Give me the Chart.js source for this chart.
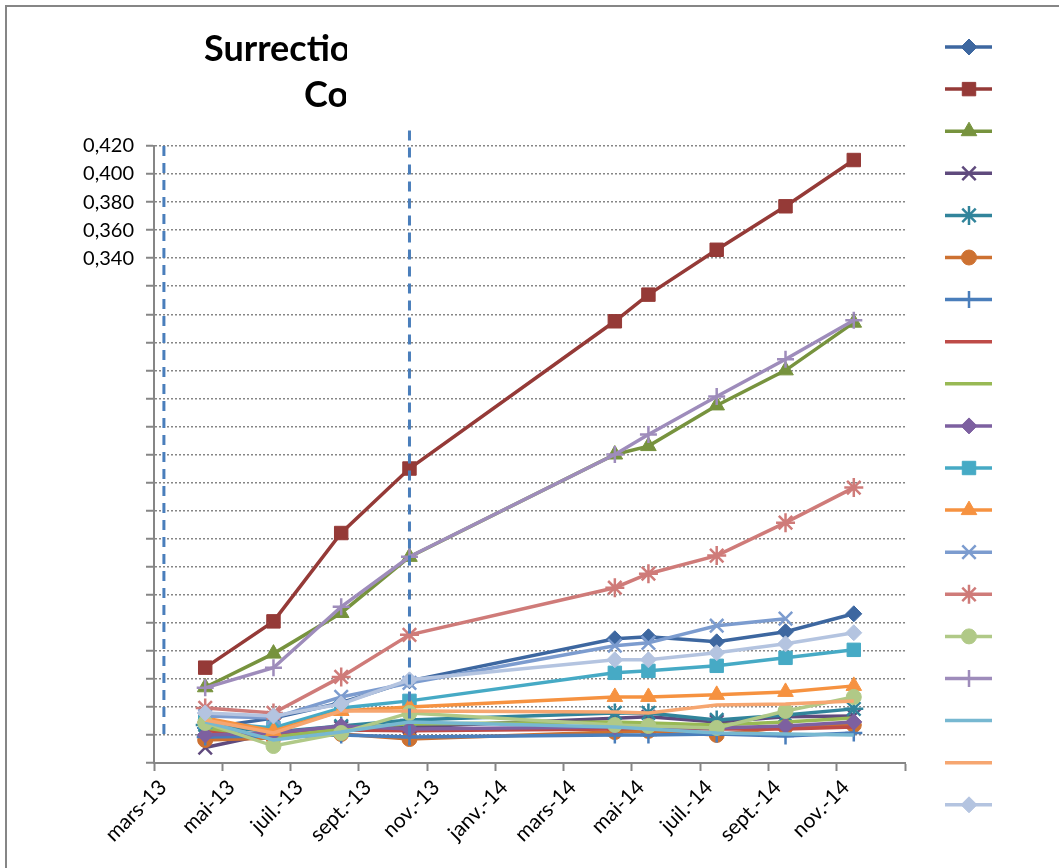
<!DOCTYPE html>
<html>
<head>
<meta charset="utf-8">
<script src="https://cdn.jsdelivr.net/npm/chart.js@4.4.1/dist/chart.umd.min.js"></script>
<style>
  html, body { margin: 0; padding: 0; background: #fff; overflow: hidden; }
  #wrap { position: relative; width: 1059px; height: 868px; }
  #frame { position: absolute; left: 5px; top: 5px; width: 1100px; height: 900px;
           border: 2px solid #868686; box-sizing: border-box; }
  .ttl { position: absolute; overflow: hidden; white-space: nowrap;
         font: bold 36px Lato, "Open Sans", sans-serif; line-height: 36px; color: #000; }
</style>
</head>
<body>
<div id="wrap">
  <div id="frame"></div>
  <canvas id="chart"></canvas>
  <div class="ttl" style="left:204px; top:29px; width:143px;">Surrectio</div>
  <div class="ttl" style="left:304px; top:75px; width:42px;">Co</div>
</div>
<script>
// Survey dates of the measurements
var dates = ['2013-04-16', '2013-06-16', '2013-08-16', '2013-10-16', '2014-04-16',
             '2014-05-16', '2014-07-16', '2014-09-16', '2014-11-16'];

// Axis tick labels, every two months from mars-13
var tickLabels = ['mars-13', 'mai-13', 'juil.-13', 'sept.-13', 'nov.-13', 'janv.-14',
                  'mars-14', 'mai-14', 'juil.-14', 'sept.-14', 'nov.-14', ''];

// Series values (19 series)
var s1  = [0.005, 0.012, 0.023, 0.0386, 0.0686, 0.070, 0.0664, 0.0736, 0.0864];
var s2  = [0.048, 0.081, 0.144, 0.190, 0.295, 0.314, 0.346, 0.377, 0.410];
var s3  = [0.034, 0.058, 0.087, 0.127, 0.200, 0.206, 0.235, 0.260, 0.294];
var s4  = [-0.009, 0.0014, 0.005, 0.0057, 0.012, 0.0129, 0.0093, 0.0129, 0.0136];
var s5  = [0.0071, 0.0021, 0.0064, 0.0107, 0.0157, 0.0157, 0.0107, 0.0143, 0.0186];
var s6  = [-0.0036, -0.0021, 0.0007, -0.0029, 0.0021, 0.0029, 0, 0.0057, 0.0071];
var s7  = [-0.0014, -0.0007, 0, -0.0014, 0, 0, 0.0007, -0.0007, 0.0014];
var s8  = [0.003, 0, 0.0036, 0.003, 0.0043, 0.005, 0.0043, 0.0043, 0.0057];
var s9  = [0.005, -0.0014, 0.0043, 0.0079, 0.0093, 0.0086, 0.0071, 0.0093, 0.0121];
var s10 = [0, 0.0014, 0.0064, 0.0043, 0.0057, 0.0057, 0.005, 0.0064, 0.0093];
var s11 = [0.0093, 0.005, 0.0193, 0.0243, 0.0443, 0.0457, 0.0493, 0.055, 0.0607];
var s12 = [0.0121, 0.0029, 0.0171, 0.020, 0.0271, 0.0271, 0.0286, 0.0307, 0.035];
var s13 = [0.0136, 0.0121, 0.0271, 0.0371, 0.0636, 0.0657, 0.0779, 0.0829, null];
var s14 = [0.0193, 0.0157, 0.0414, 0.0714, 0.105, 0.115, 0.1279, 0.1514, 0.1764];
var s15 = [0.0086, -0.0079, 0.0014, 0.0157, 0.0071, 0.0064, 0.005, 0.0171, 0.0271];
var s16 = [0.0336, 0.0479, 0.0914, 0.1271, 0.200, 0.2143, 0.2414, 0.2679, 0.2957];
var s17 = [0.0093, -0.0036, 0.0021, 0.0093, 0.0057, 0.0043, 0.0014, 0.0007, 0];
var s18 = [0.0107, 0.0014, 0.0171, 0.0171, 0.0164, 0.0157, 0.0214, 0.0221, 0.0243];
var s19 = [0.0157, 0.0136, 0.0221, 0.0393, 0.0536, 0.0536, 0.0586, 0.065, 0.0729];

// Dashed vertical markers
var guideDates = ['2013-03-10', '2013-10-16'];
var guideLow  = [0, -0.007];
var guideHigh = [0.42, 0.431];

var values  = [s1, s2, s3, s4, s5, s6, s7, s8, s9, s10, s11, s12, s13, s14, s15, s16, s17, s18, s19];
var colors  = ['#3D67A0', '#953A37', '#77933E', '#5F4A7D', '#31849B', '#CD7131', '#4A7EBB',
               '#BE4B48', '#98B954', '#7D60A0', '#46AAC5', '#F69240', '#7C9CCF', '#CF7B79',
               '#B0C987', '#9E8CBB', '#77B8D1', '#F6A670', '#B4C4E0'];
var markers = ['rectRot', 'rect', 'triangle', 'crossRot', 'star', 'circle', 'cross', null, null,
               'rectRot', 'rect', 'triangle', 'crossRot', 'star', 'circle', 'cross', null, null, 'rectRot'];
var radii   = {rectRot: 8, rect: 9.5, triangle: 9, crossRot: 9.5, star: 9.5, circle: 7.5, cross: 8.5};

// months elapsed since 1 March 2013
function monthPos(s) {
  var p = s.split('-').map(Number);
  var dim = new Date(p[0], p[1], 0).getDate();
  return (p[0] - 2013) * 12 + (p[1] - 3) + (p[2] - 1) / dim;
}

function strokeOnly(m) { return m == 'crossRot' || m == 'star' || m == 'cross'; }

var datasets = values.map(function(v, i) {
  var m = markers[i];
  return {
    label: 'S' + (i + 1),
    data: v.map(function(y, j) { return {x: monthPos(dates[j]), y: y}; }),
    borderColor: colors[i],
    backgroundColor: colors[i],
    pointBackgroundColor: colors[i],
    pointBorderColor: colors[i],
    pointStyle: m || 'circle',
    pointRadius: m ? radii[m] : 0,
    pointBorderWidth: strokeOnly(m) ? 2.5 : 1,
    borderWidth: 3.5,
    tension: 0,
    order: values.length - i
  };
});

guideDates.forEach(function(d, i) {
  datasets.push({
    label: 'guide' + i,
    data: [{x: monthPos(d), y: guideHigh[i]}, {x: monthPos(d), y: guideLow[i]}],
    borderColor: '#4A7EBB',
    borderWidth: 3,
    borderDash: [10, 7],
    borderDashOffset: 0,
    borderCapStyle: 'butt',
    pointRadius: 0,
    clip: false,
    order: -1 - i
  });
});

// legend on the right: line plus marker, no text
var sideLegend = {
  id: 'sideLegend',
  afterDraw: function(chart) {
    var ctx = chart.ctx;
    values.forEach(function(v, i) {
      var y = 47 + i * 42.1;
      ctx.save();
      ctx.strokeStyle = colors[i];
      ctx.fillStyle = colors[i];
      ctx.lineWidth = 3.5;
      ctx.beginPath();
      ctx.moveTo(945, y);
      ctx.lineTo(992, y);
      ctx.stroke();
      var m = markers[i];
      if (m && Chart.helpers && Chart.helpers.drawPoint) {
        ctx.lineWidth = strokeOnly(m) ? 2.5 : 1;
        Chart.helpers.drawPoint(ctx, {pointStyle: m, radius: radii[m], borderWidth: ctx.lineWidth, rotation: 0}, 969, y);
      }
      ctx.restore();
    });
  }
};

var fontFamily = 'Lato, "Open Sans", sans-serif';

var chart = new Chart(document.getElementById('chart'), {
  type: 'line',
  data: {datasets: datasets},
  plugins: [sideLegend],
  options: {
    responsive: true,
    maintainAspectRatio: false,
    animation: false,
    layout: {padding: {left: 0, top: 146, right: 154, bottom: 0}},
    plugins: {legend: {display: false}, tooltip: {enabled: false}, title: {display: false}},
    scales: {
      x: {
        type: 'linear',
        min: 0,
        max: 22,
        afterFit: function(s) { s.height = 105; },
        ticks: {
          stepSize: 2,
          autoSkip: false,
          maxRotation: 45,
          minRotation: 45,
          padding: 4,
          labelOffset: 9,
          color: '#000',
          font: {family: fontFamily, size: 21},
          callback: function(val) { return tickLabels[Math.round(val / 2)]; }
        },
        grid: {drawOnChartArea: false, drawTicks: true, tickLength: 8, tickColor: '#868686', tickWidth: 2},
        border: {display: true, color: '#868686', width: 2}
      },
      y: {
        min: -0.02,
        max: 0.42,
        afterFit: function(s) { s.width = 154; },
        ticks: {
          stepSize: 0.02,
          padding: 12,
          color: '#000',
          font: {family: fontFamily, size: 20},
          callback: function(val) { return val > 0.335 ? val.toFixed(3).replace('.', ',') : ''; }
        },
        grid: {color: '#868686', lineWidth: 1.5, tickLength: 8, tickColor: '#868686', tickWidth: 2, tickBorderDash: []},
        border: {display: true, color: '#868686', width: 2, dash: [2, 2]}
      }
    }
  }
});
</script>
</body>
</html>
